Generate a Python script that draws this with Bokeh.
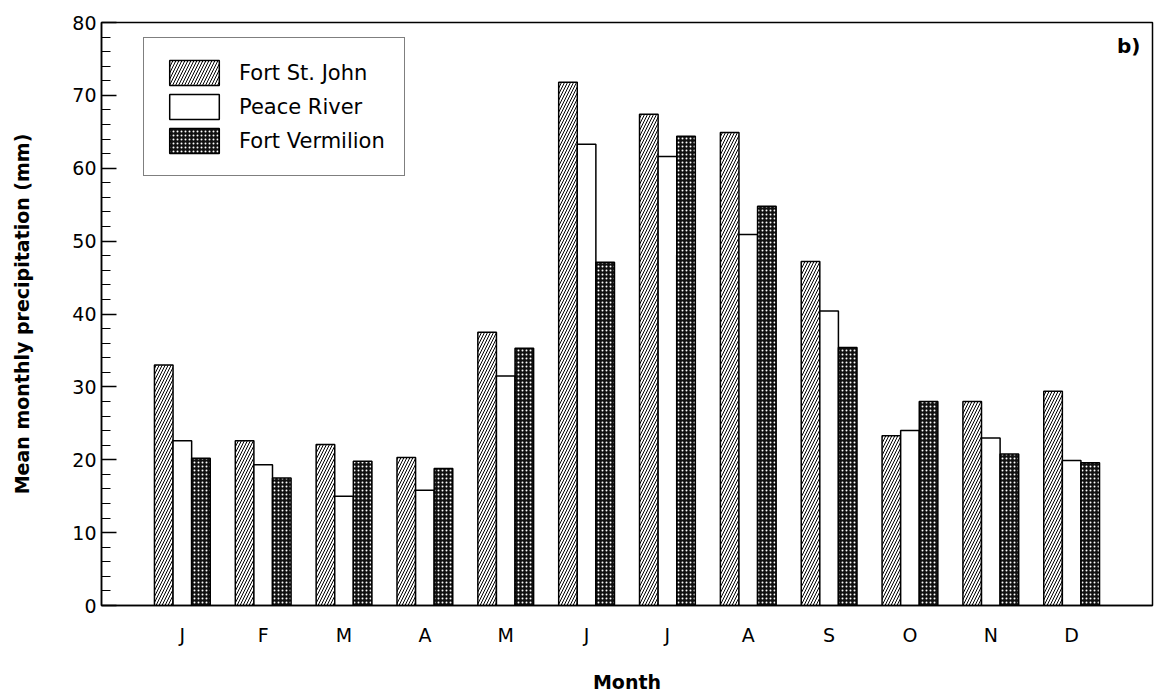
from bokeh.plotting import figure
from bokeh.models import (ColumnDataSource, Legend, LegendItem, FixedTicker,
                          Range1d, Label)
from bokeh.transform import dodge
from bokeh.embed import file_html
from bokeh.resources import INLINE

# Mean monthly precipitation (mm)
months = ["J", "F", "M", "A", "M", "J", "J", "A", "S", "O", "N", "D"]
fort_st_john = [33.0, 22.6, 22.1, 20.3, 37.5, 71.8, 67.4, 64.9, 47.2, 23.3, 28.0, 29.4]
peace_river = [22.6, 19.3, 15.0, 15.8, 31.5, 63.3, 61.6, 50.9, 40.4, 24.0, 23.0, 19.9]
fort_vermilion = [20.2, 17.5, 19.8, 18.8, 35.3, 47.1, 64.4, 54.8, 35.4, 28.0, 20.8, 19.6]
series_names = ["Fort St. John", "Peace River", "Fort Vermilion"]

pos = list(range(1, len(months) + 1))
bar_w = 0.23

src = ColumnDataSource(dict(
    x=pos,
    fsj=fort_st_john,
    pr=peace_river,
    fv=fort_vermilion,
))

FONT = "DejaVu Sans"

p = figure(width=1162, height=696, output_backend="svg", toolbar_location=None,
           x_range=Range1d(0, 13), y_range=Range1d(0, 80),
           min_border_left=101, min_border_right=10,
           min_border_top=22, min_border_bottom=91)
p.xgrid.visible = False
p.ygrid.visible = False
p.background_fill_color = "white"
p.border_fill_color = "white"
p.outline_line_color = "black"
p.outline_line_width = 1.5

r_fsj = p.vbar(x=dodge("x", -bar_w, range=p.x_range), top="fsj", width=bar_w,
               source=src, fill_color="white", line_color="black", line_width=1.5,
               hatch_pattern="right_diagonal_line", hatch_color="black",
               hatch_scale=6, hatch_weight=1.0)
r_pr = p.vbar(x="x", top="pr", width=bar_w, source=src,
              fill_color="white", line_color="black", line_width=1.5)
r_fv = p.vbar(x=dodge("x", bar_w, range=p.x_range), top="fv", width=bar_w,
              source=src, fill_color="#111111", line_color="black", line_width=1.5,
              hatch_pattern="dot", hatch_color="white",
              hatch_scale=4, hatch_weight=1.0)

# x axis: month initials, no tick marks
p.xaxis.ticker = FixedTicker(ticks=pos)
p.xaxis.major_label_overrides = {i: m for i, m in zip(pos, months)}
p.xaxis.major_tick_in = 0
p.xaxis.major_tick_out = 0
p.xaxis.minor_tick_in = 0
p.xaxis.minor_tick_out = 0
p.xaxis.axis_line_width = 1.5
p.xaxis.major_label_standoff = 18
p.xaxis.axis_label = "Month"
p.xaxis.axis_label_standoff = 22

# y axis: inward ticks every 10 with minor ticks every 2
p.yaxis.ticker = FixedTicker(ticks=list(range(0, 81, 10)),
                             minor_ticks=list(range(0, 81, 2)))
p.yaxis.major_tick_in = 15
p.yaxis.major_tick_out = 0
p.yaxis.minor_tick_in = 9
p.yaxis.minor_tick_out = 0
p.yaxis.axis_line_width = 1.5
p.yaxis.major_label_standoff = 5
p.yaxis.axis_label = "Mean monthly precipitation (mm)"
p.yaxis.axis_label_standoff = 36

for ax in (p.xaxis[0], p.yaxis[0]):
    ax.major_label_text_font = FONT
    ax.major_label_text_font_size = "19px"
    ax.major_label_text_color = "black"
    ax.axis_label_text_font = FONT
    ax.axis_label_text_font_size = "19px"
    ax.axis_label_text_font_style = "bold"
    ax.axis_label_text_color = "black"
    ax.major_tick_line_color = "black"
    ax.minor_tick_line_color = "black"
    ax.major_tick_line_width = 1.5
    ax.minor_tick_line_width = 1.2

legend = Legend(items=[
    LegendItem(label=series_names[0], renderers=[r_fsj]),
    LegendItem(label=series_names[1], renderers=[r_pr]),
    LegendItem(label=series_names[2], renderers=[r_fv]),
], location=(42, 429))
legend.glyph_width = 62
legend.glyph_height = 31
legend.spacing = 3
legend.padding = 19
legend.margin = 0
legend.label_standoff = 14
legend.label_width = 146
legend.label_text_font = FONT
legend.label_text_font_size = "21px"
legend.label_text_color = "black"
legend.border_line_color = "black"
legend.border_line_width = 1.5
legend.background_fill_color = "white"
legend.background_fill_alpha = 1.0
p.add_layout(legend, "center")

p.add_layout(Label(x=12.85, y=76.8, text="b)", text_align="right",
                   text_baseline="middle", text_font=FONT,
                   text_font_size="20px", text_font_style="bold",
                   text_color="black"))

open("out.html", "w").write(file_html(p, INLINE))
